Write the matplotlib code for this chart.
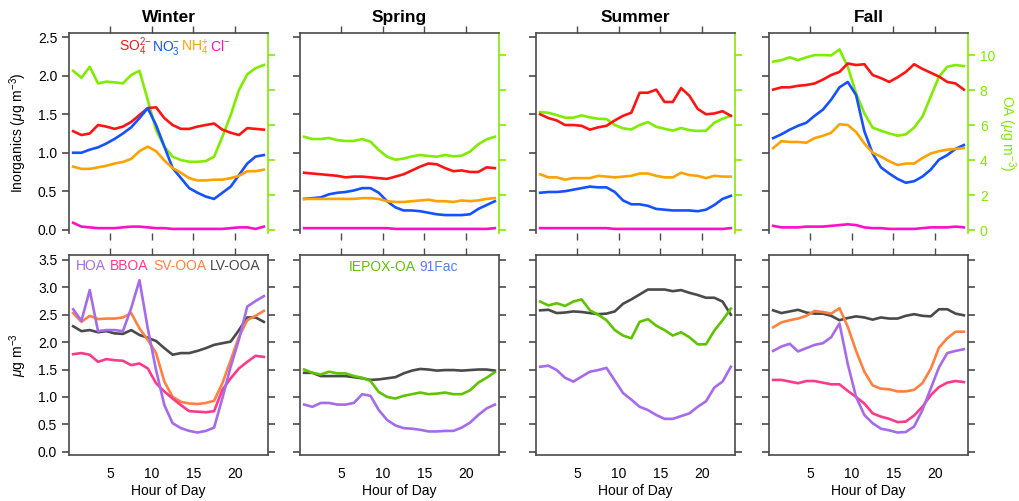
import numpy as np
import matplotlib
matplotlib.use("Agg")
import matplotlib.pyplot as plt
from matplotlib.offsetbox import TextArea, HPacker, AnchoredOffsetbox

plt.rcParams['font.family'] = ['Liberation Sans', 'DejaVu Sans']
plt.rcParams['mathtext.fontset'] = 'custom'
plt.rcParams['mathtext.rm'] = 'Liberation Sans'
plt.rcParams['mathtext.it'] = 'Liberation Sans:italic'
plt.rcParams['mathtext.bf'] = 'Liberation Sans:bold'

# ---------------- data ----------------
hours = np.arange(24) + 0.5
seasons = ["Winter", "Spring", "Summer", "Fall"]

# Inorganic species (ug m-3)
so4 = {
    "Winter": [1.28, 1.23, 1.25, 1.36, 1.34, 1.31, 1.34, 1.40, 1.49, 1.58, 1.59, 1.45, 1.36, 1.31, 1.31, 1.34, 1.36, 1.38, 1.30, 1.26, 1.23, 1.32, 1.31, 1.30],
    "Spring": [0.74, 0.73, 0.72, 0.71, 0.70, 0.68, 0.69, 0.69, 0.68, 0.67, 0.66, 0.69, 0.72, 0.77, 0.82, 0.86, 0.85, 0.80, 0.76, 0.77, 0.75, 0.75, 0.81, 0.80],
    "Summer": [1.50, 1.45, 1.42, 1.36, 1.36, 1.35, 1.30, 1.33, 1.35, 1.42, 1.48, 1.52, 1.78, 1.78, 1.82, 1.66, 1.66, 1.84, 1.74, 1.57, 1.50, 1.51, 1.54, 1.48],
    "Fall":   [1.82, 1.85, 1.85, 1.87, 1.88, 1.90, 1.95, 2.01, 2.05, 2.16, 2.14, 2.15, 2.01, 1.97, 1.92, 1.98, 2.05, 2.15, 2.09, 2.04, 1.99, 1.92, 1.90, 1.82],
}
no3 = {
    "Winter": [1.00, 1.00, 1.04, 1.07, 1.12, 1.18, 1.25, 1.33, 1.45, 1.58, 1.36, 1.08, 0.80, 0.67, 0.54, 0.48, 0.43, 0.40, 0.48, 0.56, 0.71, 0.86, 0.95, 0.97],
    "Spring": [0.40, 0.41, 0.42, 0.46, 0.48, 0.49, 0.51, 0.54, 0.54, 0.48, 0.37, 0.29, 0.25, 0.25, 0.24, 0.22, 0.20, 0.19, 0.19, 0.19, 0.20, 0.27, 0.32, 0.37],
    "Summer": [0.48, 0.49, 0.49, 0.50, 0.52, 0.54, 0.56, 0.55, 0.55, 0.49, 0.38, 0.33, 0.33, 0.31, 0.27, 0.26, 0.25, 0.25, 0.25, 0.24, 0.26, 0.32, 0.40, 0.44],
    "Fall":   [1.19, 1.24, 1.30, 1.35, 1.39, 1.48, 1.56, 1.69, 1.85, 1.92, 1.75, 1.28, 0.99, 0.81, 0.73, 0.66, 0.61, 0.63, 0.69, 0.78, 0.91, 0.97, 1.05, 1.10],
}
nh4 = {
    "Winter": [0.82, 0.79, 0.79, 0.81, 0.83, 0.86, 0.88, 0.92, 1.02, 1.08, 1.02, 0.90, 0.80, 0.74, 0.67, 0.64, 0.64, 0.65, 0.65, 0.67, 0.70, 0.76, 0.76, 0.78],
    "Spring": [0.40, 0.40, 0.40, 0.40, 0.40, 0.40, 0.40, 0.41, 0.41, 0.40, 0.37, 0.36, 0.36, 0.37, 0.38, 0.39, 0.37, 0.37, 0.36, 0.38, 0.37, 0.38, 0.40, 0.41],
    "Summer": [0.72, 0.68, 0.68, 0.65, 0.67, 0.67, 0.67, 0.70, 0.69, 0.68, 0.69, 0.70, 0.73, 0.73, 0.70, 0.68, 0.68, 0.74, 0.71, 0.70, 0.67, 0.70, 0.69, 0.69],
    "Fall":   [1.06, 1.15, 1.14, 1.14, 1.13, 1.19, 1.22, 1.26, 1.37, 1.36, 1.27, 1.12, 1.00, 0.95, 0.89, 0.84, 0.86, 0.86, 0.93, 0.99, 1.02, 1.04, 1.05, 1.06],
}
chl = {
    "Winter": [0.09, 0.04, 0.03, 0.02, 0.02, 0.02, 0.03, 0.04, 0.04, 0.03, 0.02, 0.02, 0.01, 0.01, 0.01, 0.01, 0.01, 0.01, 0.01, 0.02, 0.03, 0.03, 0.01, 0.04],
    "Spring": [0.02, 0.02, 0.02, 0.02, 0.02, 0.02, 0.02, 0.02, 0.02, 0.02, 0.02, 0.01, 0.01, 0.01, 0.01, 0.01, 0.01, 0.01, 0.01, 0.01, 0.01, 0.01, 0.01, 0.02],
    "Summer": [0.02, 0.02, 0.02, 0.02, 0.02, 0.02, 0.02, 0.02, 0.02, 0.01, 0.01, 0.01, 0.01, 0.01, 0.01, 0.01, 0.01, 0.01, 0.01, 0.01, 0.01, 0.01, 0.01, 0.02],
    "Fall":   [0.05, 0.03, 0.03, 0.03, 0.04, 0.04, 0.04, 0.05, 0.06, 0.07, 0.06, 0.03, 0.02, 0.02, 0.01, 0.01, 0.01, 0.01, 0.02, 0.03, 0.03, 0.03, 0.04, 0.03],
}
# Total organic aerosol (ug m-3), right axis
oa = {
    "Winter": [9.10, 8.70, 9.33, 8.38, 8.48, 8.44, 8.38, 8.86, 9.10, 7.43, 5.71, 4.76, 4.19, 4.00, 3.90, 3.90, 3.94, 4.19, 5.33, 6.57, 8.00, 8.90, 9.25, 9.43],
    "Spring": [5.33, 5.20, 5.20, 5.26, 5.14, 5.09, 5.09, 5.20, 5.05, 4.57, 4.19, 4.02, 4.08, 4.21, 4.29, 4.23, 4.19, 4.29, 4.21, 4.25, 4.48, 4.90, 5.18, 5.33],
    "Summer": [6.74, 6.70, 6.57, 6.42, 6.42, 6.55, 6.44, 6.36, 6.34, 6.00, 5.81, 5.75, 6.00, 6.17, 5.90, 5.79, 5.68, 5.83, 5.71, 5.66, 5.68, 6.13, 6.36, 6.53],
    "Fall":   [9.62, 9.71, 9.87, 9.71, 9.87, 10.0, 10.0, 9.98, 10.32, 9.33, 7.81, 6.67, 5.85, 5.68, 5.52, 5.39, 5.47, 5.85, 6.48, 7.62, 8.76, 9.33, 9.43, 9.37],
}

# PMF factors (ug m-3)
hoa = {
    "Winter": [2.60, 2.39, 2.95, 2.20, 2.22, 2.22, 2.20, 2.62, 3.13, 2.25, 1.49, 0.85, 0.52, 0.43, 0.38, 0.35, 0.38, 0.44, 0.98, 1.55, 2.05, 2.65, 2.75, 2.84],
    "Spring": [0.86, 0.82, 0.89, 0.89, 0.86, 0.86, 0.89, 1.05, 1.02, 0.76, 0.58, 0.48, 0.43, 0.42, 0.40, 0.37, 0.37, 0.38, 0.38, 0.44, 0.53, 0.67, 0.79, 0.86],
    "Summer": [1.55, 1.57, 1.49, 1.35, 1.28, 1.37, 1.46, 1.49, 1.53, 1.30, 1.07, 0.95, 0.82, 0.76, 0.67, 0.60, 0.60, 0.65, 0.70, 0.82, 0.92, 1.17, 1.28, 1.55],
    "Fall":   [1.84, 1.92, 1.97, 1.83, 1.89, 1.95, 1.98, 2.09, 2.34, 1.60, 1.00, 0.67, 0.52, 0.42, 0.39, 0.35, 0.36, 0.46, 0.76, 1.15, 1.54, 1.80, 1.84, 1.87],
}
bboa = {
    "Winter": [1.78, 1.80, 1.77, 1.64, 1.69, 1.67, 1.66, 1.58, 1.61, 1.52, 1.25, 1.10, 0.97, 0.85, 0.74, 0.73, 0.72, 0.74, 1.13, 1.34, 1.52, 1.64, 1.75, 1.73],
    "Fall":   [1.31, 1.31, 1.28, 1.25, 1.29, 1.29, 1.26, 1.23, 1.23, 1.11, 1.00, 0.88, 0.70, 0.64, 0.60, 0.54, 0.55, 0.66, 0.82, 1.03, 1.18, 1.26, 1.29, 1.27],
}
svooa = {
    "Winter": [2.53, 2.37, 2.48, 2.42, 2.43, 2.43, 2.45, 2.53, 2.25, 2.04, 1.80, 1.28, 1.00, 0.91, 0.88, 0.87, 0.89, 0.93, 1.25, 1.67, 2.10, 2.40, 2.48, 2.57],
    "Fall":   [2.27, 2.36, 2.40, 2.43, 2.48, 2.57, 2.55, 2.52, 2.62, 2.28, 1.84, 1.46, 1.21, 1.15, 1.14, 1.10, 1.10, 1.13, 1.25, 1.51, 1.90, 2.07, 2.19, 2.19],
}
lvooa = {
    "Winter": [2.29, 2.20, 2.22, 2.18, 2.20, 2.16, 2.15, 2.22, 2.13, 2.08, 2.02, 1.89, 1.77, 1.80, 1.80, 1.84, 1.89, 1.95, 1.98, 2.01, 2.22, 2.45, 2.45, 2.37],
    "Spring": [1.44, 1.44, 1.38, 1.38, 1.38, 1.38, 1.36, 1.34, 1.31, 1.32, 1.34, 1.36, 1.43, 1.48, 1.51, 1.50, 1.48, 1.49, 1.49, 1.48, 1.49, 1.50, 1.50, 1.48],
    "Summer": [2.58, 2.59, 2.53, 2.54, 2.56, 2.55, 2.53, 2.51, 2.52, 2.56, 2.70, 2.78, 2.87, 2.96, 2.96, 2.96, 2.93, 2.95, 2.90, 2.86, 2.81, 2.81, 2.74, 2.50],
    "Fall":   [2.58, 2.53, 2.56, 2.59, 2.54, 2.52, 2.52, 2.48, 2.40, 2.44, 2.47, 2.45, 2.41, 2.45, 2.43, 2.43, 2.48, 2.51, 2.48, 2.47, 2.60, 2.60, 2.52, 2.49],
}
iepox = {
    "Spring": [1.50, 1.44, 1.41, 1.46, 1.43, 1.43, 1.38, 1.35, 1.29, 1.09, 1.00, 0.97, 1.02, 1.05, 1.08, 1.05, 1.06, 1.08, 1.05, 1.05, 1.12, 1.26, 1.35, 1.45],
    "Summer": [2.74, 2.67, 2.71, 2.66, 2.74, 2.78, 2.58, 2.50, 2.40, 2.22, 2.12, 2.07, 2.37, 2.42, 2.30, 2.22, 2.12, 2.18, 2.09, 1.96, 1.96, 2.21, 2.40, 2.61],
}

# ---------------- styling ----------------
C_SO4, C_NO3, C_NH4, C_CL = "#ff1414", "#1452ff", "#ffa200", "#ff10c8"
C_OA = "#80ec00"
C_HOA, C_BBOA, C_SV, C_LV = "#a66bec", "#ff3a8a", "#ff8040", "#4a4a4a"
C_IEPOX, C_91 = "#5ec400", "#5a7cff"
SPINE = "#4a4a4a"
LW = 1.9

W, H = 1020, 501
fig = plt.figure(figsize=(W / 100, H / 100), dpi=100)

lefts = [69, 300, 536, 769]
pw = 199
top_y0, top_y1 = 33, 233
bot_y0, bot_y1 = 255, 455


def frac_rect(x0, y0, y1):
    return [x0 / W, 1 - y1 / H, pw / W, (y1 - y0) / H]


def legend_row(ax, items, x, y, sep=3, size=9.5):
    boxes = [TextArea(t, textprops=dict(color=c, fontsize=size)) for t, c in items]
    pack = HPacker(children=boxes, align="baseline", pad=0, sep=sep)
    ab = AnchoredOffsetbox(loc="center", child=pack, pad=0, frameon=False,
                           bbox_to_anchor=(x, y), bbox_transform=ax.transAxes,
                           borderpad=0)
    ax.add_artist(ab)


xticks = [5, 10, 15, 20]
for i, s in enumerate(seasons):
    # ---- top row: inorganics + total OA ----
    ax = fig.add_axes(frac_rect(lefts[i], top_y0, top_y1))
    ax.plot(hours, so4[s], color=C_SO4, lw=LW)
    ax.plot(hours, no3[s], color=C_NO3, lw=LW)
    ax.plot(hours, nh4[s], color=C_NH4, lw=LW)
    ax.plot(hours, chl[s], color=C_CL, lw=LW)
    ax.set_xlim(0, 24)
    ax.set_ylim(-0.043, 2.556)
    ax.set_yticks([0, 0.5, 1.0, 1.5, 2.0, 2.5])
    ax.set_xticks(xticks)
    ax.spines["bottom"].set_visible(False)
    for sp in ["left", "top"]:
        ax.spines[sp].set_color(SPINE)
        ax.spines[sp].set_linewidth(1.2)
    ax.spines["right"].set_visible(False)
    ax.tick_params(axis="x", which="both", direction="out", top=True, bottom=True,
                   labelbottom=False, length=5, width=1, color=SPINE)
    ax.tick_params(axis="y", direction="out", length=5, width=1.2, color=SPINE,
                   labelsize=10, labelleft=(i == 0))
    ax.set_title(s, fontsize=12.5, fontweight="bold", pad=8)
    if i == 0:
        ax.yaxis.set_major_formatter(matplotlib.ticker.FormatStrFormatter("%.1f"))
        ax.set_ylabel(r"Inorganics ($\mu$g m$^{-3}$)", fontsize=10, labelpad=6)
        legend_row(ax, [(r"SO$_4^{2\mathrm{-}}$", C_SO4), (r"NO$_3^{\mathrm{-}}$", C_NO3),
                        (r"NH$_4^{+}$", C_NH4), (r"Cl$^{\mathrm{-}}$", C_CL)],
                   0.53, 0.93, sep=0.5, size=10)

    ax2 = ax.twinx()
    ax2.plot(hours, oa[s], color=C_OA, lw=LW)
    ax2.set_ylim(-0.17, 11.26)
    ax2.set_yticks([0, 2, 4, 6, 8, 10])
    for sp in ["left", "top", "bottom"]:
        ax2.spines[sp].set_visible(False)
    ax2.spines["right"].set_color(C_OA)
    ax2.spines["right"].set_linewidth(1.2)
    ax2.tick_params(axis="y", direction="out", length=5, width=1.2, color=C_OA,
                    labelcolor=C_OA, labelsize=10, labelright=(i == 3))
    if i == 3:
        ax2.set_ylabel(r"OA ($\mu$g m$^{-3}$)", color=C_OA, fontsize=10,
                       rotation=270, labelpad=16)
    ax.set_zorder(ax2.get_zorder() + 1)
    ax.patch.set_visible(False)

    # ---- bottom row: PMF factors ----
    bx = fig.add_axes(frac_rect(lefts[i], bot_y0, bot_y1))
    if s in lvooa:
        bx.plot(hours, lvooa[s], color=C_LV, lw=LW)
    if s in svooa:
        bx.plot(hours, svooa[s], color=C_SV, lw=LW)
    if s in iepox:
        bx.plot(hours, iepox[s], color=C_IEPOX, lw=LW)
    if s in bboa:
        bx.plot(hours, bboa[s], color=C_BBOA, lw=LW)
    bx.plot(hours, hoa[s], color=C_HOA, lw=LW)
    bx.set_xlim(0, 24)
    bx.set_ylim(-0.06, 3.59)
    bx.set_yticks(np.arange(0, 3.51, 0.5))
    bx.set_xticks(xticks)
    for sp in bx.spines.values():
        sp.set_color(SPINE)
        sp.set_linewidth(1.2)
    bx.tick_params(axis="x", direction="out", top=True, bottom=True, length=5,
                   width=1, color=SPINE, labelsize=10)
    # hour labels along the bottom, tick marks only along the top edge
    for t in bx.xaxis.get_major_ticks():
        t.tick1line.set_visible(False)
    bx.tick_params(axis="y", direction="out", left=True, right=True, length=5,
                   width=1.2, color=SPINE, labelsize=10, labelleft=(i == 0))
    bx.set_xlabel("Hour of Day", fontsize=10, labelpad=2)
    if i == 0:
        bx.yaxis.set_major_formatter(matplotlib.ticker.FormatStrFormatter("%.1f"))
        bx.set_ylabel(r"$\mu$g m$^{-3}$", fontsize=10, labelpad=6)
        legend_row(bx, [("HOA", C_HOA), ("BBOA", C_BBOA), ("SV-OOA", C_SV),
                        ("LV-OOA", C_LV)], 0.5, 0.945, size=10)
    if i == 1:
        legend_row(bx, [("IEPOX-OA", C_IEPOX), ("91Fac", C_91)], 0.52, 0.94, size=10)

fig.savefig("out.png", dpi=100)
